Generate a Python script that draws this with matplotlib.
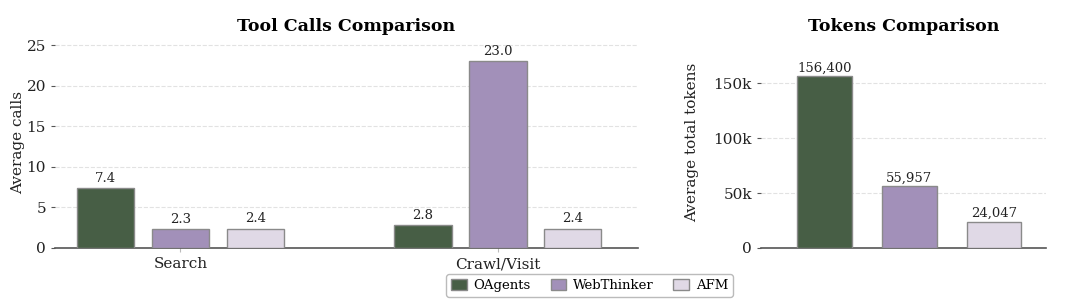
import matplotlib
matplotlib.use("Agg")
import matplotlib.pyplot as plt
import numpy as np

plt.rcParams['font.family'] = ['DejaVu Serif']

# Data
methods = ["OAgents", "WebThinker", "AFM"]
tool_types = ["Search", "Crawl/Visit"]
search_calls = [7.4, 2.3, 2.4]
crawl_calls = [2.8, 23.0, 2.4]
total_tokens = [156400, 55957, 24047]
colors = ["#475e45", "#a290b9", "#e0d9e6"]
edge = "#8a8a8a"
text_c = "#222222"

fig = plt.figure(figsize=(10.8, 2.99), dpi=100)
ax1 = fig.add_axes([0.0509, 0.1706, 0.5398, 0.7057])
ax2 = fig.add_axes([0.7046, 0.1706, 0.2639, 0.7057])

# Tool calls
x = np.arange(len(tool_types))
width = 0.18
step = 0.236
calls = np.array([search_calls, crawl_calls]).T
for i, (m, c) in enumerate(zip(methods, colors)):
    pos = x + (i - 1) * step
    bars = ax1.bar(pos, calls[i], width, color=c, edgecolor=edge, linewidth=1.0,
                   label=m, zorder=3)
    for b, v in zip(bars, calls[i]):
        ax1.text(b.get_x() + b.get_width() / 2, v + 0.4, f"{v:.1f}",
                 ha="center", va="bottom", fontsize=9.5, color=text_c)
ax1.set_xticks(x)
ax1.set_xticklabels(tool_types, fontsize=11)
ax1.set_xlim(-0.395, 1.441)
ax1.set_ylim(0, 26)
ax1.set_yticks([0, 5, 10, 15, 20, 25])
ax1.set_ylabel("Average calls", fontsize=11, color=text_c, labelpad=1)
ax1.set_title("Tool Calls Comparison", fontsize=12.5, fontweight="bold", pad=4)

# Tokens
xt = np.arange(len(methods))
bars = ax2.bar(xt, total_tokens, 0.65, color=colors, edgecolor=edge,
               linewidth=1.0, zorder=3)
for b, v in zip(bars, total_tokens):
    ax2.text(b.get_x() + b.get_width() / 2, v + 1500, f"{v:,}",
             ha="center", va="bottom", fontsize=9.5, color=text_c)
ax2.set_xticks([])
ax2.set_xlim(-0.757, 2.615)
ax2.set_ylim(0, 192000)
ax2.set_yticks([0, 50000, 100000, 150000])
ax2.set_yticklabels(["0", "50k", "100k", "150k"])
ax2.set_ylabel("Average total tokens", fontsize=11, color=text_c, labelpad=10)
ax2.set_title("Tokens Comparison", fontsize=12.5, fontweight="bold", pad=4)

for ax in (ax1, ax2):
    for s in ("top", "right", "left"):
        ax.spines[s].set_visible(False)
    ax.spines["bottom"].set_color("#555555")
    ax.spines["bottom"].set_linewidth(1.2)
    ax.yaxis.grid(True, linestyle="--", color="#e2e2e2", linewidth=0.8, zorder=0)
    ax.set_axisbelow(True)
    ax.tick_params(axis="y", length=3, color="#555555", labelsize=11, labelcolor=text_c)
    ax.tick_params(axis="x", length=3, color="#bbbbbb", labelcolor=text_c)

fig.legend(*ax1.get_legend_handles_labels(), loc="center",
           bbox_to_anchor=(0.546, 0.045), ncol=3, fontsize=9.5, frameon=True,
           edgecolor="#aaaaaa", handlelength=1.2, handleheight=0.9,
           columnspacing=1.5, borderpad=0.35, handletextpad=0.5)

fig.savefig("out.png", dpi=100)
